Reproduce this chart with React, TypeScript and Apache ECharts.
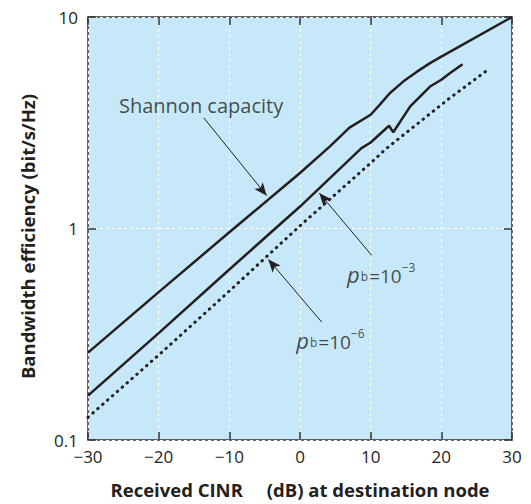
import React, { useEffect, useRef } from "react";
import * as echarts from "echarts";

// CINR (dB) and bandwidth efficiency (bit/s/Hz)
const shannonX = [-30, -20, -10, 0, 4.2, 7, 10, 11.3, 12.7, 14.6, 16.5, 18.4, 20, 30];
const shannonY = [0.259, 0.5, 0.96, 1.83, 2.44, 3.0, 3.45, 3.85, 4.36, 4.95, 5.5, 6.05, 6.5, 10];
const pb3X = [-30, -20, -10, 0, 8.7, 10, 12.6, 13.2, 15.6, 18.4, 20, 21.2, 23];
const pb3Y = [0.162, 0.32, 0.64, 1.27, 2.4, 2.55, 3.06, 2.85, 3.78, 4.69, 5.05, 5.42, 5.98];
const pb6X = [-30, -20, -10, 0, 10, 12.3, 21, 26.9];
const pb6Y = [0.128, 0.252, 0.506, 1.03, 2.04, 2.4, 4.09, 5.73];

const xTicks = [-30, -20, -10, 0, 10, 20, 30];
const yTicks = [0.1, 1, 10];

// annotations: [text anchor x, y]
const shannonLabel = [-14.0, 3.8];
const pb3Label = [11.5, 0.62];
const pb6Label = [4.3, 0.303];
// arrows: [tailX, tailY, tipX, tipY]
const arrows = [
  [-13.6, 3.33, -4.71, 1.43],
  [10.14, 0.747, 2.73, 1.47],
  [3.07, 0.361, -4.49, 0.715],
];

const INK = "#231f20";
const FRAME = "#333333";
const FONT = "'Open Sans', 'Noto Sans', sans-serif";

const zip = (xs: number[], ys: number[]) => xs.map((x, i) => [x, ys[i]]);

export default function App() {
  const ref = useRef<HTMLDivElement>(null);
  useEffect(() => {
    document.body.style.margin = "0";
    if (!ref.current) return;
    const chart = echarts.init(ref.current, null, { renderer: "svg" });
    const line = (data: number[][], dotted: boolean, extra: any = {}) => ({
      type: "line",
      data,
      showSymbol: false,
      symbol: "none",
      silent: true,
      xAxisIndex: 0,
      yAxisIndex: 0,
      lineStyle: dotted
        ? { color: INK, width: 3, type: [0.5, 6], cap: "round" }
        : { color: INK, width: 2.5 },
      ...extra,
    });
    const pbRich = {
      p: { fontFamily: FONT, fontSize: 22, fontStyle: "italic", color: INK, lineHeight: 26, verticalAlign: "bottom" },
      b: { fontFamily: FONT, fontSize: 12, color: INK, lineHeight: 26, verticalAlign: "bottom", padding: [0, 1, 3, 1] },
      n: { fontFamily: FONT, fontSize: 19, color: INK, lineHeight: 26, verticalAlign: "bottom" },
      s: { fontFamily: FONT, fontSize: 12, color: INK, lineHeight: 26, verticalAlign: "top", padding: [2, 0, 0, 0] },
    };
    const tick = { show: true, inside: true, length: 8, lineStyle: { color: FRAME, width: 1.5 } };
    const pbLabel = (exp: string) => ({
      show: true,
      position: "inside",
      formatter: "{p|p}{b|b}{n|=10}{s|\u2212" + exp + "}",
      rich: pbRich,
    });
    chart.setOption({
      animation: false,
      grid: {
        left: 88,
        top: 17,
        width: 424,
        height: 424,
        show: true,
        backgroundColor: "#c7e8f8",
        borderColor: FRAME,
        borderWidth: 1.5,
      },
      xAxis: [
        {
          type: "value",
          min: -30,
          max: 30,
          interval: 10,
          axisLine: { show: false, onZero: false },
          axisTick: tick,
          splitLine: { show: true, lineStyle: { color: "#ffffff", width: 1, type: [3, 3] } },
          axisLabel: {
            fontFamily: FONT,
            fontSize: 17,
            color: INK,
            margin: 8,
            formatter: (v: number) => (xTicks.includes(v) ? String(v).replace("-", "\u2212") : ""),
          },
          name: "{a|Received CINR}{b|(dB) at destination node}",
          nameLocation: "middle",
          nameGap: 40,
          nameTextStyle: {
            rich: {
              a: { fontFamily: FONT, fontSize: 18.5, fontWeight: "bold", color: INK, padding: [0, 24, 0, 0] },
              b: { fontFamily: FONT, fontSize: 18.5, fontWeight: "bold", color: INK },
            },
          },
        },
        {
          type: "value",
          position: "top",
          min: -30,
          max: 30,
          interval: 10,
          axisLine: { show: false, onZero: false },
          axisTick: tick,
          axisLabel: { show: false },
          splitLine: { show: false },
        },
      ],
      yAxis: [
        {
          type: "log",
          logBase: 10,
          min: 0.1,
          max: 10,
          position: "left",
          axisLine: { show: false, onZero: false },
          axisTick: tick,
          minorTick: { show: false },
          splitLine: { show: true, lineStyle: { color: "#ffffff", width: 1, type: [3, 3] } },
          axisLabel: {
            fontFamily: FONT,
            fontSize: 17,
            color: INK,
            margin: 10,
            formatter: (v: number) => {
              const t = yTicks.find((k) => Math.abs(k - v) < 1e-9);
              return t === undefined ? "" : String(t);
            },
          },
          name: "Bandwidth efficiency (bit/s/Hz)",
          nameLocation: "middle",
          nameGap: 51,
          nameTextStyle: {
            fontFamily: FONT,
            fontSize: 18.5,
            fontWeight: "bold",
            color: INK,
            padding: [0, 16, 0, 0],
          },
        },
        {
          type: "log",
          logBase: 10,
          min: 0.1,
          max: 10,
          position: "right",
          axisLine: { show: false, onZero: false },
          axisTick: tick,
          axisLabel: { show: false },
          splitLine: { show: false },
        },
      ],
      series: [
        line(zip(shannonX, shannonY), false, {
          markLine: {
            silent: true,
            symbol: ["none", "arrow"],
            symbolSize: [8, 13],
            lineStyle: { color: INK, width: 1, type: "solid" },
            label: { show: false },
            data: arrows.map((a) => [{ coord: [a[0], a[1]] }, { coord: [a[2], a[3]] }]),
          },
        }),
        line(zip(pb3X, pb3Y), false),
        line(zip(pb6X, pb6Y), true),
        {
          type: "scatter",
          silent: true,
          xAxisIndex: 0,
          yAxisIndex: 0,
          symbolSize: 1,
          itemStyle: { color: "rgba(0,0,0,0)" },
          data: [
            {
              value: shannonLabel,
              label: { show: true, position: "inside", formatter: "Shannon capacity", fontFamily: FONT, fontSize: 20, color: INK },
            },
            { value: pb3Label, label: pbLabel("3") },
            { value: pb6Label, label: pbLabel("6") },
          ],
        },
      ],
    });
    return () => chart.dispose();
  }, []);
  return <div ref={ref} style={{ width: 531, height: 504 }} />;
}
